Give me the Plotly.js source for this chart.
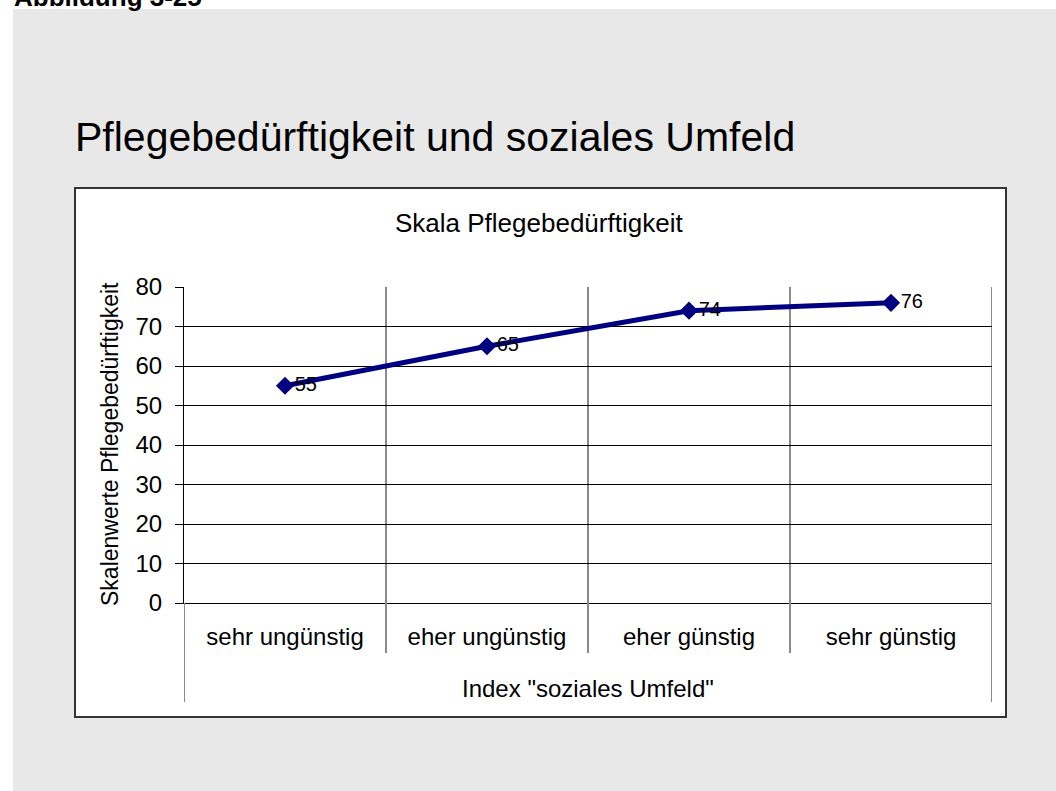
<!DOCTYPE html>
<html>
<head>
<meta charset="utf-8">
<script src="https://cdn.plot.ly/plotly-3.0.1.min.js"></script>
<style>html,body{margin:0;padding:0;background:#fff;}#chart{width:1056px;height:791px;}</style>
</head>
<body>
<div id="chart"></div>
<script>
// ---- data ----
const categories = ["sehr ungünstig", "eher ungünstig", "eher günstig", "sehr günstig"];
const values = [55, 65, 74, 76];
const valueLabels = ["55", "65", "74", "76"];
const yTickValues = [0, 10, 20, 30, 40, 50, 60, 70, 80];
const figureLabel = "Abbildung 3-25";
const mainTitle = "Pflegebedürftigkeit und soziales Umfeld";
const chartTitle = "Skala Pflegebedürftigkeit";
const xTitle = "Index \"soziales Umfeld\"";
const yTitle = "Skalenwerte Pflegebedürftigkeit";

// ---- layout helpers (pixel -> paper) ----
const W = 1056, H = 791;
const px = x => x / W;
const py = y => 1 - y / H;
const FONT = "Liberation Sans, Arial, sans-serif";

const plotL = 184, plotR = 992, plotT = 287, plotB = 603;

const trace = {
  x: categories,
  y: values,
  text: valueLabels,
  type: "scatter",
  mode: "lines+markers+text",
  textposition: "middle right",
  textfont: {family: FONT, size: 20, color: "#000"},
  line: {color: "#000080", width: 5},
  marker: {symbol: "diamond", size: 14, color: "#000080"},
  cliponaxis: false,
  hoverinfo: "x+y"
};

const shapes = [];
// grey background panel
shapes.push({type: "rect", xref: "paper", yref: "paper", x0: px(13), x1: 1, y0: 0, y1: py(9),
  fillcolor: "#e8e8e8", line: {width: 0}, layer: "below"});
// white chart box
shapes.push({type: "rect", xref: "paper", yref: "paper", x0: px(75), x1: px(1006), y0: py(717), y1: py(188),
  fillcolor: "#ffffff", line: {color: "#333333", width: 2}, layer: "below"});
// vertical category grid lines inside plot
[0.5, 1.5, 2.5, 3.5].forEach(v => {
  shapes.push({type: "line", xref: "x", yref: "y", x0: v, x1: v, y0: 0, y1: 80,
    line: {color: "#8a8a8a", width: 2}, layer: "below"});
});
// category separators below axis
[0.5, 1.5, 2.5].forEach(v => {
  shapes.push({type: "line", xref: "x", yref: "paper", x0: v, x1: v, y0: py(653), y1: py(plotB),
    line: {color: "#8a8a8a", width: 2}});
});
[-0.5, 3.5].forEach(v => {
  shapes.push({type: "line", xref: "x", yref: "paper", x0: v, x1: v, y0: py(702), y1: py(plotB),
    line: {color: "#8a8a8a", width: 2}});
});

const annotations = [
  {text: figureLabel, xref: "paper", yref: "paper", x: px(12), y: py(-3), xanchor: "left", yanchor: "middle",
   showarrow: false, font: {family: FONT, size: 26, color: "#000", weight: "bold"}},
  {text: chartTitle, xref: "paper", yref: "paper", x: px(539), y: py(223), xanchor: "center", yanchor: "middle",
   showarrow: false, font: {family: FONT, size: 26, color: "#000"}},
  {text: xTitle, xref: "paper", yref: "paper", x: px(588), y: py(688), xanchor: "center", yanchor: "middle",
   showarrow: false, font: {family: FONT, size: 24, color: "#000"}},
  {text: yTitle, xref: "paper", yref: "paper", x: px(110), y: py(444), xanchor: "center", yanchor: "middle",
   textangle: -90, showarrow: false, font: {family: FONT, size: 23, color: "#000"}}
];

const layout = {
  width: W, height: H,
  margin: {l: 0, r: 0, t: 0, b: 0, pad: 0},
  paper_bgcolor: "#ffffff",
  plot_bgcolor: "rgba(0,0,0,0)",
  showlegend: false,
  font: {family: FONT, color: "#000"},
  title: {text: mainTitle, xref: "paper", yref: "paper", x: px(75), y: py(137), xanchor: "left", yanchor: "middle",
          font: {family: FONT, size: 41, color: "#000"}},
  xaxis: {
    type: "category",
    domain: [px(plotL), px(plotR)],
    range: [-0.5, 3.5],
    showgrid: false, zeroline: false,
    showline: true, linecolor: "#000", linewidth: 1,
    ticks: "", ticklabelstandoff: 12,
    tickfont: {family: FONT, size: 24, color: "#000"},
    fixedrange: true
  },
  yaxis: {
    domain: [py(plotB), py(plotT)],
    range: [0, 80],
    tickvals: yTickValues,
    ticktext: yTickValues.map(String),
    showgrid: true, gridcolor: "#000", gridwidth: 1,
    zeroline: false,
    showline: true, linecolor: "#000", linewidth: 1,
    ticks: "outside", ticklen: 8, tickcolor: "#000", tickwidth: 1,
    ticklabelstandoff: 8,
    tickfont: {family: FONT, size: 24, color: "#000"},
    fixedrange: true
  },
  shapes: shapes,
  annotations: annotations
};

Plotly.newPlot("chart", [trace], layout, {displayModeBar: false, staticPlot: true});
</script>
</body>
</html>
